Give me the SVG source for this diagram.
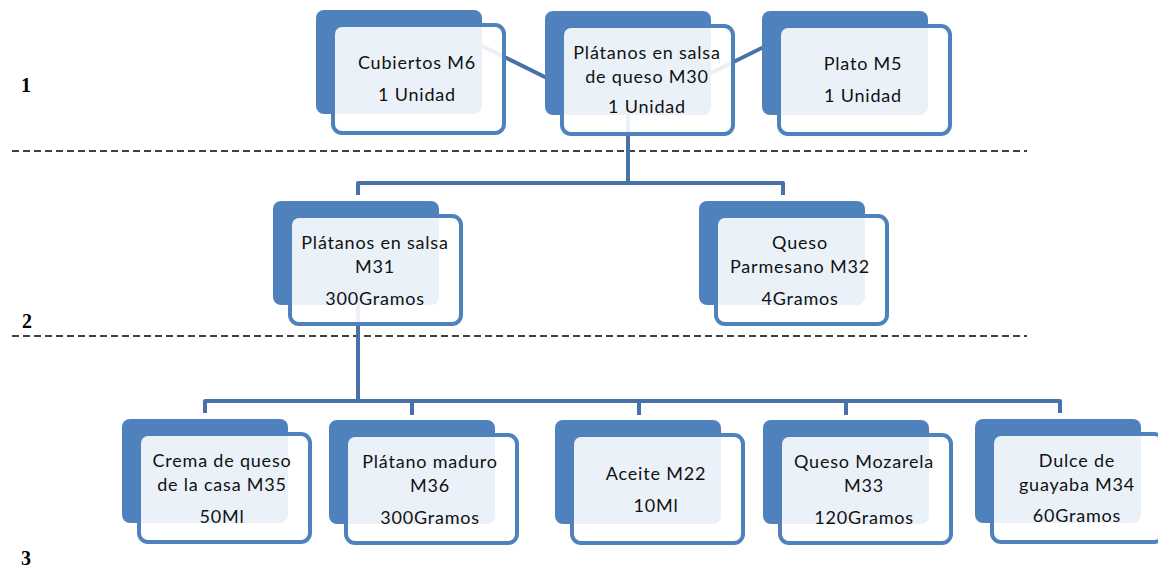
<svg xmlns="http://www.w3.org/2000/svg" width="1158" height="569" viewBox="0 0 1158 569">
  <style>
    .back { fill: #4f81bd; }
    .front { fill: #ffffff; fill-opacity: 0.89; stroke: #4f81bd; stroke-width: 4; }
    .lbl { font-family: Lato, "Liberation Sans", sans-serif; font-size: 18px; fill: #111111; text-anchor: middle; letter-spacing: 0.8px; }
    .link { fill: none; stroke: #4771a8; stroke-width: 4; stroke-linejoin: round; }
    .level { fill: none; stroke: #000000; stroke-width: 1.3; stroke-dasharray: 7 4; }
    .num { font-family: "Liberation Serif", serif; font-size: 20px; font-weight: bold; fill: #000000; }
  </style>
  <defs>
    <g id="card">
      <rect class="back" x="0" y="0" width="166" height="104" rx="8"/>
      <rect class="front" x="17" y="15" width="171" height="108" rx="9"/>
    </g>
  </defs>

  <!-- level separators and level numbers -->
  <line class="level" x1="12" y1="151" x2="1027" y2="151"/>
  <line class="level" x1="12" y1="336" x2="1027" y2="336"/>
  <text class="num" x="21" y="92">1</text>
  <text class="num" x="22" y="328">2</text>
  <text class="num" x="21" y="565">3</text>

  <!-- connectors -->
  <g id="connectors">
    <line class="link" x1="470" y1="40" x2="555" y2="82"/>
    <line class="link" x1="705" y1="76" x2="780" y2="39"/>
    <path class="link" d="M628 115 V183"/>
    <path class="link" d="M358 195 V183 H783 V195"/>
    <path class="link" d="M358 305 V401"/>
    <path class="link" d="M205 413 V401 H1060 V413"/>
    <path class="link" d="M412 401 V415"/>
    <path class="link" d="M639 401 V415"/>
    <path class="link" d="M846 401 V415"/>
  </g>

  <!-- level 1 -->
  <g id="n-m6" transform="translate(316,10)">
    <use href="#card"/>
    <text class="lbl" x="101" y="59">Cubiertos M6</text>
    <text class="lbl" x="101" y="91">1 Unidad</text>
  </g>
  <g id="n-m30" transform="translate(545,11)">
    <use href="#card"/>
    <text class="lbl" x="102" y="48">Plátanos en salsa</text>
    <text class="lbl" x="102" y="72">de queso M30</text>
    <text class="lbl" x="102" y="102">1 Unidad</text>
  </g>
  <g id="n-m5" transform="translate(762,11)">
    <use href="#card"/>
    <text class="lbl" x="101" y="59">Plato M5</text>
    <text class="lbl" x="101" y="91">1 Unidad</text>
  </g>

  <!-- level 2 -->
  <g id="n-m31" transform="translate(273,201)">
    <use href="#card"/>
    <text class="lbl" x="102" y="48">Plátanos en salsa</text>
    <text class="lbl" x="102" y="72">M31</text>
    <text class="lbl" x="102" y="104">300Gramos</text>
  </g>
  <g id="n-m32" transform="translate(699,201)">
    <use href="#card"/>
    <text class="lbl" x="101" y="48">Queso</text>
    <text class="lbl" x="101" y="72">Parmesano M32</text>
    <text class="lbl" x="101" y="104">4Gramos</text>
  </g>

  <!-- level 3 -->
  <g id="n-m35" transform="translate(122,419)">
    <use href="#card"/>
    <text class="lbl" x="100" y="48">Crema de queso</text>
    <text class="lbl" x="100" y="72">de la casa M35</text>
    <text class="lbl" x="100" y="104">50Ml</text>
  </g>
  <g id="n-m36" transform="translate(329,420)">
    <use href="#card"/>
    <text class="lbl" x="101" y="48">Plátano maduro</text>
    <text class="lbl" x="101" y="72">M36</text>
    <text class="lbl" x="101" y="104">300Gramos</text>
  </g>
  <g id="n-m22" transform="translate(555,420)">
    <use href="#card"/>
    <text class="lbl" x="101" y="60">Aceite M22</text>
    <text class="lbl" x="101" y="92">10Ml</text>
  </g>
  <g id="n-m33" transform="translate(763,420)">
    <use href="#card"/>
    <text class="lbl" x="101" y="48">Queso Mozarela</text>
    <text class="lbl" x="101" y="72">M33</text>
    <text class="lbl" x="101" y="104">120Gramos</text>
  </g>
  <g id="n-m34" transform="translate(975,419)">
    <use href="#card"/>
    <text class="lbl" x="102" y="48">Dulce de</text>
    <text class="lbl" x="102" y="72">guayaba M34</text>
    <text class="lbl" x="102" y="103">60Gramos</text>
  </g>
</svg>
